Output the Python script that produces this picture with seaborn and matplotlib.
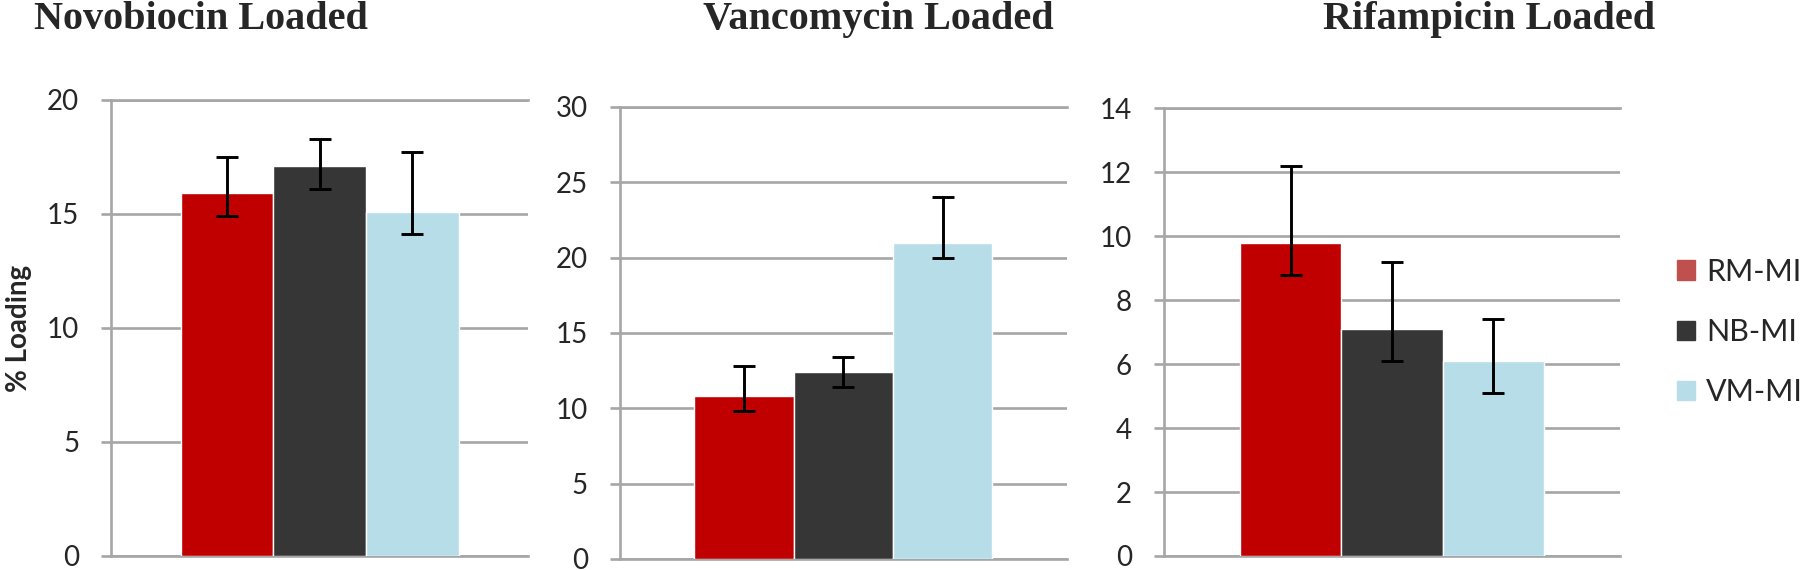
import numpy as np
import pandas as pd
import matplotlib
matplotlib.use('Agg')
import matplotlib.pyplot as plt
from matplotlib.patches import Patch
import seaborn as sns

#DATA
groups = ['RM-MI', 'NB-MI', 'VM-MI']
titles = ['Novobiocin Loaded', 'Vancomycin Loaded', 'Rifampicin Loaded']

novo_loading = [15.9, 17.1, 15.1]
novo_err_up = [1.6, 1.2, 2.6]
novo_err_down = [1.0, 1.0, 1.0]

vanco_loading = [10.8, 12.4, 21.0]
vanco_err_up = [2.0, 1.0, 3.0]
vanco_err_down = [1.0, 1.0, 1.0]

rif_loading = [9.8, 7.1, 6.1]
rif_err_up = [2.4, 2.1, 1.3]
rif_err_down = [1.0, 1.0, 1.0]

y_max = [20, 30, 14]
y_step = [5, 5, 2]

bar_colors = ['#C00000', '#363636', '#B7DDE8']
legend_colors = ['#C0504D', '#363636', '#B7DDE8']
grid_gray = '#A6A6A6'

sns.set_style('white')
plt.rcParams['font.family'] = ['Lato', 'DejaVu Sans']

fig = plt.figure(figsize=(18, 5.7), dpi=100)

#AXES PLACEMENT (FIGURE FRACTIONS)
boxes = [[0.0617, 0.0246, 0.2317, 0.8000],
         [0.3444, 0.0193, 0.2483, 0.7930],
         [0.6467, 0.0246, 0.2533, 0.7854]]
title_x = [0.1115, 0.488, 0.827]

panels = [(novo_loading, novo_err_up, novo_err_down),
          (vanco_loading, vanco_err_up, vanco_err_down),
          (rif_loading, rif_err_up, rif_err_down)]

for i, (vals, up, down) in enumerate(panels):
    ax = fig.add_axes(boxes[i])
    df = pd.DataFrame({'drug': [titles[i]] * 3, 'group': groups, 'loading': vals})
    sns.barplot(data=df, x='drug', y='loading', hue='group', hue_order=groups,
                palette=bar_colors, width=2 / 3, errorbar=None, legend=False,
                saturation=1, ax=ax, zorder=2)

    #ASYMMETRIC ERROR BARS ON THE BAR CENTERS
    centers = [p.get_x() + p.get_width() / 2 for p in ax.patches]
    tops = [p.get_height() for p in ax.patches]
    ax.errorbar(centers, tops, yerr=[down, up], fmt='none', ecolor='black',
                elinewidth=2.1, capsize=8, capthick=2.1, zorder=3)

    ax.set_xlim(-0.5, 0.5)
    ax.set_ylim(0, y_max[i])
    ax.set_yticks(np.arange(0, y_max[i] + 1, y_step[i]))
    ax.set_xticks([])
    ax.set_xlabel('')
    ax.set_ylabel('')

    ax.yaxis.grid(True, color=grid_gray, linewidth=1.9)
    ax.set_axisbelow(True)
    for side in ['left', 'top', 'bottom']:
        ax.spines[side].set_visible(True)
        ax.spines[side].set_color(grid_gray)
        ax.spines[side].set_linewidth(1.9)
        ax.spines[side].set_zorder(0.5)
    ax.spines['right'].set_visible(False)
    ax.tick_params(axis='y', direction='out', length=7, width=1.9, color=grid_gray,
                   labelsize=20, pad=16, left=True)

    fig.text(title_x[i], 0.949, titles[i], ha='center', va='baseline',
             fontsize=29, fontweight='bold', family=['Liberation Serif'])

    if i == 0:
        ax.set_ylabel('% Loading', fontsize=20, fontweight='bold')
        ax.yaxis.set_label_coords(-0.19, 0.5)

handles = [Patch(facecolor=c, edgecolor=c) for c in legend_colors]
fig.legend(handles, groups, loc='center left', bbox_to_anchor=(0.9317, 0.4175),
           frameon=False, fontsize=22, handlelength=0.6, handleheight=0.6,
           handletextpad=0.36, labelspacing=1.05, borderpad=0, borderaxespad=0)

plt.savefig('out.png', dpi=100)
